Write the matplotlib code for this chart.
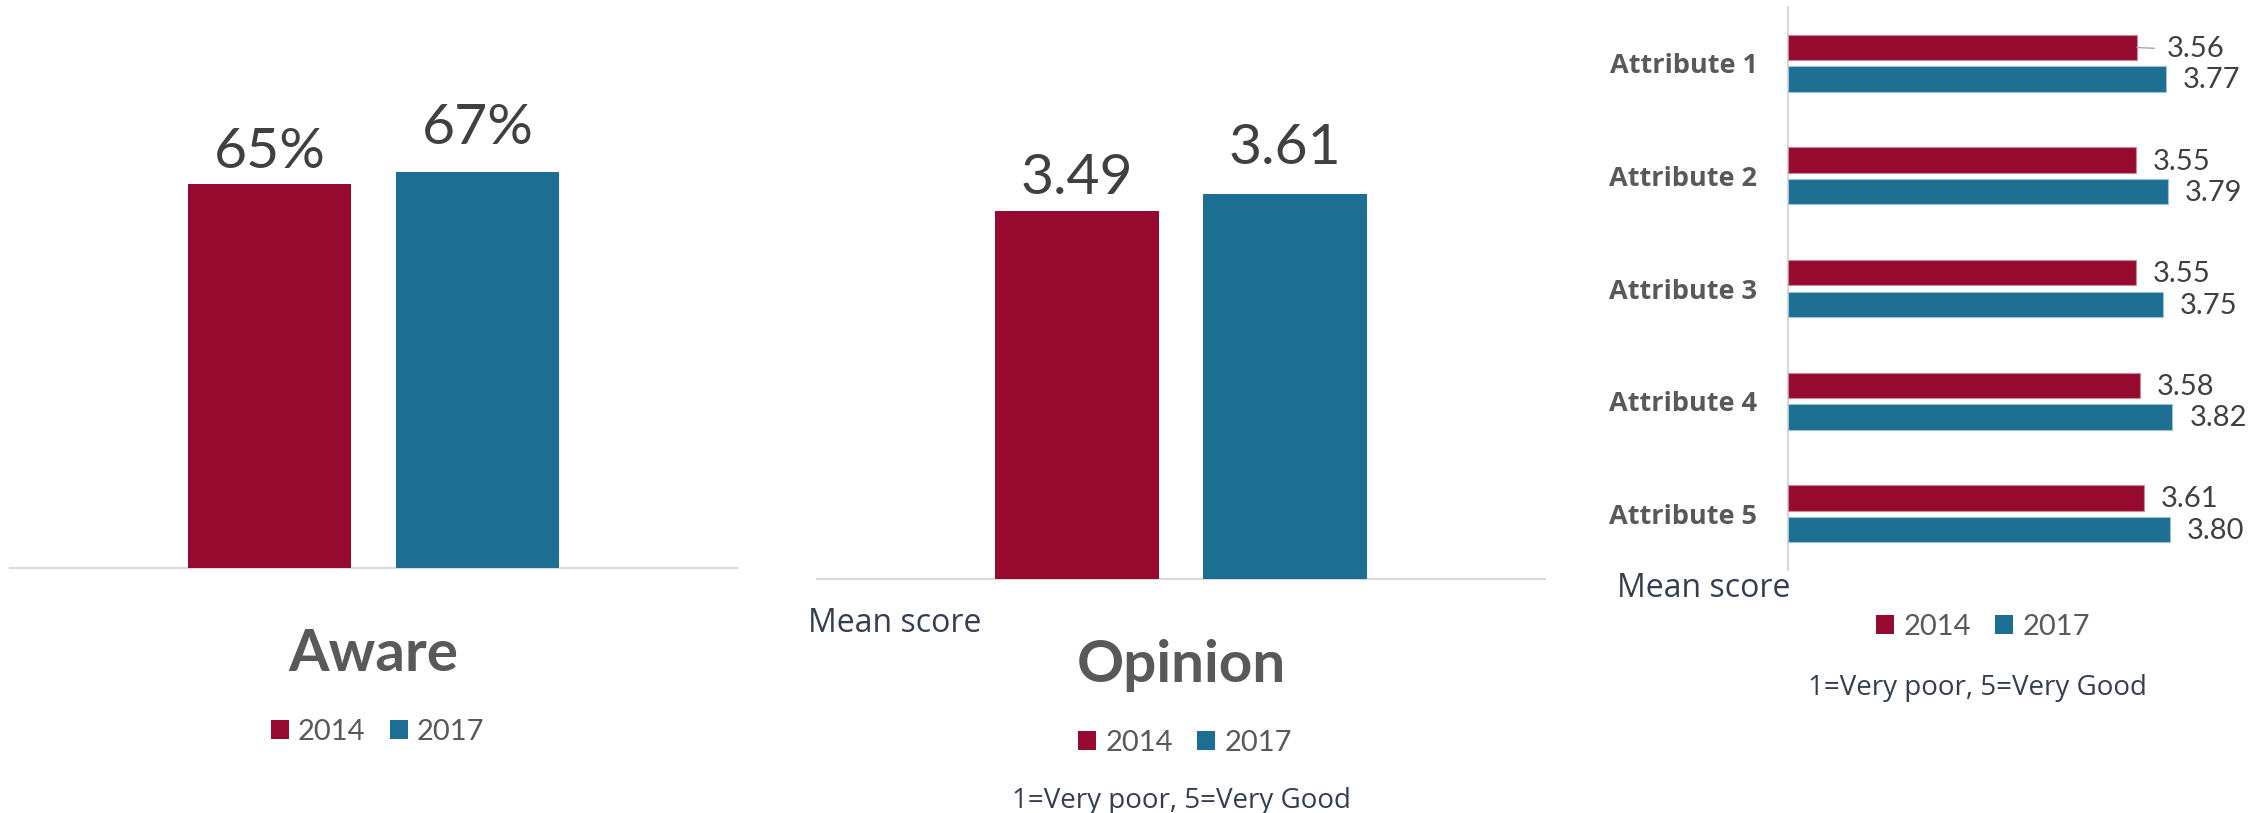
import matplotlib
matplotlib.use('Agg')
import matplotlib.pyplot as plt
from matplotlib.patches import Patch

W, H, DPI = 2259, 813, 100

# ---------------- data ----------------
series = ['2014', '2017']
aware_values = [65, 67]
aware_labels = ['65%', '67%']
opinion_values = [3.49, 3.61]
opinion_labels = ['3.49', '3.61']
attributes = ['Attribute 1', 'Attribute 2', 'Attribute 3', 'Attribute 4', 'Attribute 5']
attr_2014 = [3.56, 3.55, 3.55, 3.58, 3.61]
attr_2017 = [3.77, 3.79, 3.75, 3.82, 3.80]

RED = '#970A30'
BLUE = '#1C6E92'
LABEL_C = '#404040'
TITLE_C = '#595959'
NOTE_C = '#333F50'
AXIS_C = '#D9D9D9'
NUM_FONT = 'Lato'
TXT_FONT = 'Open Sans'

fig = plt.figure(figsize=(W / DPI, H / DPI), dpi=DPI)


def ax_px(left, top, right, bottom):
    return fig.add_axes([left / W, 1 - bottom / H, (right - left) / W, (bottom - top) / H])


def fx(x):
    return x / W


def fy(y):
    return 1 - y / H


def clean(ax):
    for s in ax.spines.values():
        s.set_visible(False)
    ax.set_xticks([])
    ax.set_yticks([])
    ax.patch.set_alpha(0)


BW = 0.2254
OFF = 0.143
label_offsets = [11.5, 20.5]  # points above bar (2014, 2017)

# ---------------- panel 1: Aware ----------------
ax1 = ax_px(10, 568 - 80 * 5.908, 737, 568)
clean(ax1)
ax1.set_xlim(-0.5, 0.5)
ax1.set_ylim(0, 80)
ax1.spines['bottom'].set_visible(True)
ax1.spines['bottom'].set_color(AXIS_C)
ax1.spines['bottom'].set_linewidth(1.5)
xs = [-OFF, OFF]
cols = [RED, BLUE]
for x, v, lab, c, o in zip(xs, aware_values, aware_labels, cols, label_offsets):
    ax1.bar(x, v, width=BW, color=c, zorder=3)
    ax1.annotate(lab, xy=(x, v), xytext=(0, o), textcoords='offset points',
                 ha='center', va='baseline', fontsize=41, family=NUM_FONT,
                 color=LABEL_C)

fig.text(fx(373), fy(671), 'Aware', ha='center', va='baseline', fontsize=42,
         family=NUM_FONT, fontweight='bold', color=TITLE_C)

# ---------------- panel 2: Opinion ----------------
K2 = 147.6
ax2 = ax_px(817, 579 - 3 * K2, 1545, 579)
clean(ax2)
ax2.set_xlim(-0.5, 0.5)
ax2.set_ylim(1, 4)
ax2.spines['bottom'].set_visible(True)
ax2.spines['bottom'].set_color(AXIS_C)
ax2.spines['bottom'].set_linewidth(1.5)
for x, v, lab, c, o in zip(xs, opinion_values, opinion_labels, cols, label_offsets):
    ax2.bar(x, v - 1, bottom=1, width=BW, color=c, zorder=3)
    ax2.annotate(lab, xy=(x, v), xytext=(0, o + 0.8), textcoords='offset points',
                 ha='center', va='baseline', fontsize=41, family=NUM_FONT,
                 color=LABEL_C)

fig.text(fx(808), fy(632), 'Mean score', ha='left', va='baseline', fontsize=23,
         family=TXT_FONT, color=NOTE_C)
fig.text(fx(1181), fy(682), 'Opinion', ha='center', va='baseline', fontsize=42,
         family=NUM_FONT, fontweight='bold', color=TITLE_C)
fig.text(fx(1181), fy(808), '1=Very poor, 5=Very Good', ha='center', va='baseline',
         fontsize=20, family=TXT_FONT, color=NOTE_C)

# ---------------- panel 3: Attributes ----------------
K3 = 136.3
ax3 = ax_px(1788, 7, 1788 + 3 * K3, 570)
clean(ax3)
ax3.set_xlim(1, 4)
ax3.set_ylim(4.5, -0.5)
ax3.spines['left'].set_visible(True)
ax3.spines['left'].set_color(AXIS_C)
ax3.spines['left'].set_linewidth(1.5)
ys = list(range(len(attributes)))
BH = 0.2265
OFF3 = 0.14
ax3.barh([y - OFF3 for y in ys], [v - 1 for v in attr_2014], left=1, height=BH,
         color=RED, edgecolor='#C98A9B', linewidth=0.8, zorder=3)
ax3.barh([y + OFF3 for y in ys], [v - 1 for v in attr_2017], left=1, height=BH,
         color=BLUE, edgecolor='#9CC3D5', linewidth=0.8, zorder=3)
ax3.set_yticks(ys)
ax3.set_yticklabels(attributes, fontsize=19.5, family=TXT_FONT, fontweight='bold',
                    color=TITLE_C)
ax3.tick_params(axis='y', length=0, pad=22)

for i, (y, v) in enumerate(zip(ys, attr_2014)):
    if i == 0:
        ax3.annotate(f'{v:.2f}', xy=(v, y - OFF3), xytext=(21.6, -1), textcoords='offset points',
                     ha='left', va='center', fontsize=21, family=NUM_FONT, color=LABEL_C,
                     arrowprops=dict(arrowstyle='-', color='#A6A6A6', lw=1,
                                     relpos=(0, 0.5), shrinkA=7, shrinkB=0))
    else:
        ax3.annotate(f'{v:.2f}', xy=(v, y - OFF3), xytext=(12.2, -1), textcoords='offset points',
                     ha='left', va='center', fontsize=21, family=NUM_FONT, color=LABEL_C)
for y, v in zip(ys, attr_2017):
    ax3.annotate(f'{v:.2f}', xy=(v, y + OFF3), xytext=(12.2, -1), textcoords='offset points',
                 ha='left', va='center', fontsize=21, family=NUM_FONT, color=LABEL_C)

fig.text(fx(1790), fy(597), 'Mean score', ha='right', va='baseline', fontsize=23,
         family=TXT_FONT, color=NOTE_C)
fig.text(fx(1977), fy(695), '1=Very poor, 5=Very Good', ha='center', va='baseline',
         fontsize=20, family=TXT_FONT, color=NOTE_C)

# ---------------- legends ----------------
handles = [Patch(facecolor=RED), Patch(facecolor=BLUE)]
for cx, cy in [(377.5, 732), (1185, 743), (1983, 627)]:
    fig.legend(handles=handles, labels=series, loc='center',
               bbox_to_anchor=(fx(cx), fy(cy)), ncol=2, frameon=False,
               prop={'family': NUM_FONT, 'size': 21}, labelcolor=TITLE_C,
               handlelength=0.62, handleheight=0.62, handletextpad=0.31,
               columnspacing=0.83, borderpad=0, borderaxespad=0)

fig.savefig('out.png', dpi=DPI)
